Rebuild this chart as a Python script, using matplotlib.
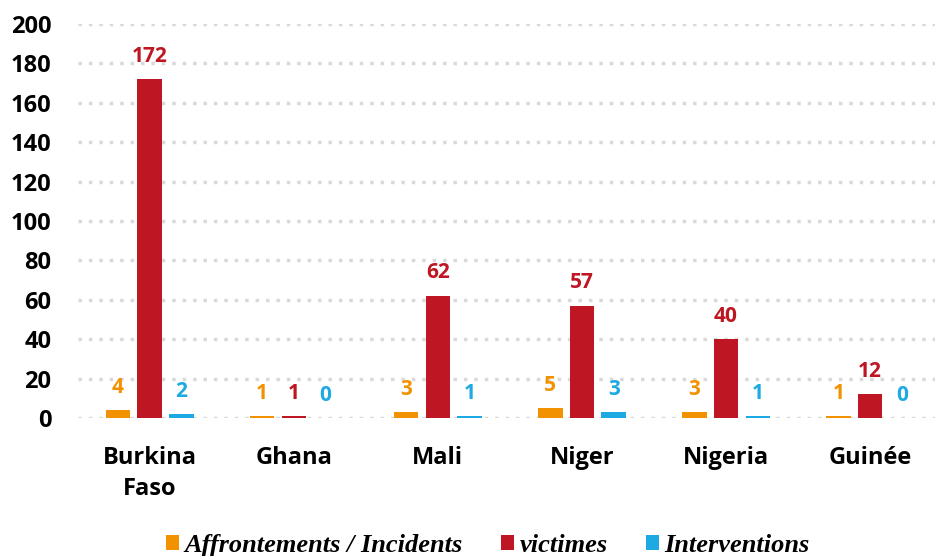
import matplotlib.pyplot as plt
import numpy as np

# données
pays = ["Burkina\nFaso", "Ghana", "Mali", "Niger", "Nigeria", "Guinée"]
incidents = [4, 1, 3, 5, 3, 1]
victimes = [172, 1, 62, 57, 40, 12]
interventions = [2, 0, 1, 3, 1, 0]

series = [("Affrontements / Incidents", incidents, "#F39200"),
          ("victimes", victimes, "#BE1622"),
          ("Interventions", interventions, "#1DA9E1")]

plt.rcParams['font.family'] = ['Open Sans', 'DejaVu Sans']

fig = plt.figure(figsize=(9.35, 5.56), dpi=100)
ax = fig.add_axes([0.083, 0.248, 0.917, 0.709])

x = np.arange(len(pays))
width = 0.17
offsets = [-0.22, 0, 0.22]

for (nom, vals, col), off in zip(series, offsets):
    bars = ax.bar(x + off, vals, width, color=col, label=nom, zorder=3)
    for b, v in zip(bars, vals):
        ax.annotate(str(v), (b.get_x() + b.get_width() / 2, v),
                    xytext=(0, 9), textcoords="offset points",
                    ha="center", va="bottom", color=col,
                    fontsize=15, fontweight="bold")

ax.set_ylim(0, 200)
ax.set_xlim(-0.5, 5.45)
ax.set_yticks(range(0, 201, 20))
ax.set_xticks(x)
ax.set_xticklabels(pays, fontsize=17, fontweight="bold", linespacing=1.4)
for lab in ax.get_yticklabels():
    lab.set_fontsize(17)
    lab.set_fontweight("bold")
ax.tick_params(axis="both", length=0)
ax.tick_params(axis="y", pad=19)
ax.tick_params(axis="x", pad=20)

ax.grid(axis="y", color="#D9D9D9", linestyle=(0, (1, 2)), linewidth=2.5, zorder=0)
ax.grid(axis="x", visible=False)
for s in ax.spines.values():
    s.set_visible(False)

leg = fig.legend(loc="lower center", bbox_to_anchor=(0.522, -0.045), ncol=3,
                 frameon=False, handlelength=0.5, handleheight=0.5,
                 handletextpad=0.2, columnspacing=1.45,
                 prop={"family": "Liberation Serif", "style": "italic",
                       "weight": "bold", "size": 19})

fig.savefig("out.png", dpi=100)
